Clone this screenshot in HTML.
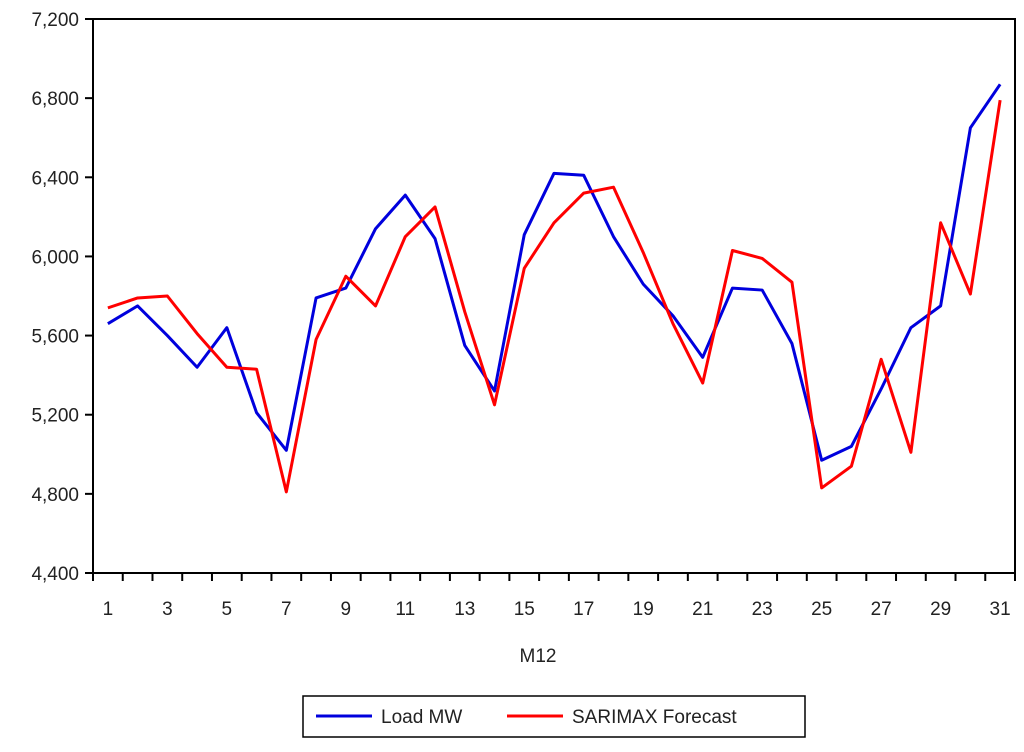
<!DOCTYPE html>
<html><head><meta charset="utf-8"><style>
body{margin:0;background:#fff;}
svg text{font-family:"Liberation Sans",Arial,sans-serif;fill:#222;}
</style></head><body>
<svg id="chart" width="1024" height="747" viewBox="0 0 1024 747">
<rect x="93" y="19" width="922" height="554" fill="#fff" stroke="#000" stroke-width="2"/>
<g id="yaxis"></g>
<g id="xaxis"></g>
<g id="series"></g>
<text x="538" y="662" font-size="19" text-anchor="middle">M12</text>
<g>
<rect x="303" y="696" width="502" height="41" fill="#fff" stroke="#000" stroke-width="1.5"/>
<g>
<line x1="316" y1="716" x2="372" y2="716" stroke="#0000dd" stroke-width="3"/>
<text x="381" y="723" font-size="19">Load MW</text></g>
<g>
<line x1="507" y1="716" x2="563" y2="716" stroke="#ff0000" stroke-width="3"/>
<text x="572" y="723" font-size="19">SARIMAX Forecast</text></g>
</g>
</svg>
<script>
const days=[1,2,3,4,5,6,7,8,9,10,11,12,13,14,15,16,17,18,19,20,21,22,23,24,25,26,27,28,29,30,31];
const loadMW=[5660,5750,5600,5440,5640,5210,5020,5790,5840,6140,6310,6090,5550,5320,6110,6420,6410,6100,5860,5700,5490,5840,5830,5560,4970,5040,5330,5640,5750,6650,6870];
const forecast=[5740,5790,5800,5610,5440,5430,4810,5580,5900,5750,6100,6250,5720,5250,5940,6170,6320,6350,6020,5660,5360,6030,5990,5870,4830,4940,5480,5010,6170,5810,6790];
const yTicks=[4400,4800,5200,5600,6000,6400,6800,7200];
const xLabels=[1,3,5,7,9,11,13,15,17,19,21,23,25,27,29,31];
const NS="http://www.w3.org/2000/svg";
const L=93,R=1015,T=19,B=573,yMin=4400,yMax=7200;
const step=(R-L)/days.length;
function X(d){return L+(d-0.5)*step;}
function Y(v){return T+(yMax-v)/(yMax-yMin)*(B-T);}
function mk(t,a,p){const e=document.createElementNS(NS,t);for(const k in a)e.setAttribute(k,a[k]);p.appendChild(e);return e;}
const ya=document.getElementById('yaxis');
yTicks.forEach(v=>{
 const l=mk('line',{x1:L-8,x2:L,y1:Y(v),y2:Y(v),stroke:'#000','stroke-width':2},ya);
 
 
 const t=mk('text',{x:L-14,y:Y(v)+7,'font-size':19,'text-anchor':'end'},ya);
 t.textContent=v.toLocaleString('en-US');
 
 
});
const xa=document.getElementById('xaxis');
for(let i=0;i<=days.length;i++){
 const x=L+i*step;
 const l=mk('line',{x1:x,x2:x,y1:B,y2:B+8,stroke:'#000','stroke-width':2},xa);
 
 
}
xLabels.forEach(d=>{
 const t=mk('text',{x:X(d),y:B+42,'font-size':19,'text-anchor':'middle'},xa);
 t.textContent=d;
 
 
});
const sg=document.getElementById('series');
function line(vals,col,name){
 const p=mk('polyline',{points:vals.map((v,i)=>X(days[i])+','+Y(v)).join(' '),fill:'none',stroke:col,'stroke-width':3,'stroke-linejoin':'round'},sg);
 
 
}
line(loadMW,'#0000dd','load-mw-line');
line(forecast,'#ff0000','sarimax-forecast-line');
</script>
</body></html>
